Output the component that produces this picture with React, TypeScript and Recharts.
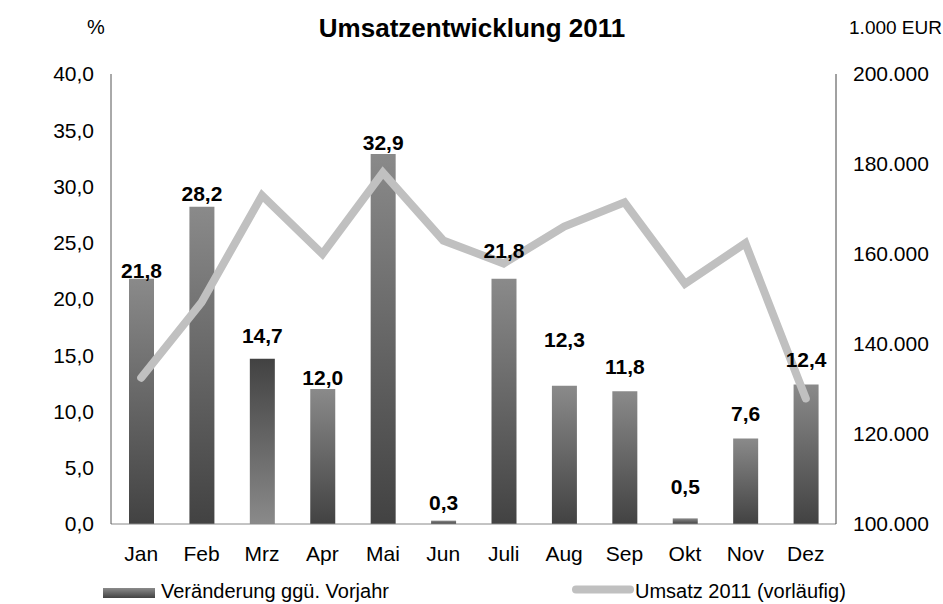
import React from 'react';
import { ComposedChart, Bar, Line, XAxis, YAxis, Cell, LabelList } from 'recharts';

const months = ['Jan', 'Feb', 'Mrz', 'Apr', 'Mai', 'Jun', 'Juli', 'Aug', 'Sep', 'Okt', 'Nov', 'Dez'];
const changeVsPrevYear = [21.8, 28.2, 14.7, 12.0, 32.9, 0.3, 21.8, 12.3, 11.8, 0.5, 7.6, 12.4];
const revenue2011 = [132500, 149300, 173000, 160000, 178100, 163000, 157900, 166100, 171500, 153400, 162400, 127900];
const leftTicks = [0, 5, 10, 15, 20, 25, 30, 35, 40];
const rightTicks = [100000, 120000, 140000, 160000, 180000, 200000];

// styling: label lift above bar top (px) and bars with reversed gradient
const labelLift = [8, 13, 23, 11, 11, 18, 28, 46, 25, 32, 25, 25];
const reversedGradient = ['Mrz'];

const data = months.map((m, i) => ({ month: m, change: changeVsPrevYear[i], revenue: revenue2011[i] }));

const FONT = '"Liberation Sans", Arial, sans-serif';

const fmtLeft = (v: number) => v.toFixed(1).replace('.', ',');
const fmtRight = (v: number) => String(Math.round(v)).replace(/\B(?=(\d{3})+(?!\d))/g, '.');

const BarLabel = (props: any) => {
  const { x, y, width, value, index } = props;
  return (
    <text
      x={Number(x) + Number(width) / 2}
      y={Number(y) - labelLift[index]}
      dy="0.355em"
      textAnchor="middle"
      fontFamily={FONT}
      fontSize={21}
      fontWeight="bold"
      fill="#000"
    >
      {fmtLeft(Number(value))}
    </text>
  );
};

export default function App() {
  return (
    <div style={{ position: 'absolute', left: 0, top: 0, width: 943, height: 604, background: '#fff', fontFamily: FONT }}>
      <ComposedChart
        width={943}
        height={604}
        data={data}
        margin={{ top: 74, right: 7, bottom: 50, left: 51 }}
      >
        <defs>
          <linearGradient id="barGrad" x1="0" y1="0" x2="0" y2="1">
            <stop offset="0%" stopColor="#8a8a8a" />
            <stop offset="100%" stopColor="#424242" />
          </linearGradient>
          <linearGradient id="barGradRev" x1="0" y1="0" x2="0" y2="1">
            <stop offset="0%" stopColor="#424242" />
            <stop offset="100%" stopColor="#8a8a8a" />
          </linearGradient>
        </defs>
        <XAxis
          dataKey="month"
          tickLine={false}
          tickSize={0}
          tickMargin={22}
          height={30}
          axisLine={{ stroke: '#888', strokeWidth: 1 }}
          tick={{ fill: '#000', fontSize: 21, fontFamily: FONT }}
          interval={0}
        />
        <YAxis
          yAxisId="left"
          orientation="left"
          domain={[0, 40]}
          ticks={leftTicks}
          tickFormatter={fmtLeft}
          width={60}
          tickLine={false}
          tickSize={0}
          tickMargin={17}
          axisLine={{ stroke: '#555', strokeWidth: 1 }}
          tick={{ fill: '#000', fontSize: 21, fontFamily: FONT }}
          allowDataOverflow
        />
        <YAxis
          yAxisId="right"
          orientation="right"
          domain={[100000, 200000]}
          ticks={rightTicks}
          tickFormatter={fmtRight}
          width={100}
          tickLine={false}
          tickSize={0}
          tickMargin={17}
          axisLine={{ stroke: '#444', strokeWidth: 1 }}
          tick={{ fill: '#000', fontSize: 21, fontFamily: FONT, textAnchor: 'start' }}
          allowDataOverflow
        />
        <Bar yAxisId="left" dataKey="change" barSize={25} isAnimationActive={false}>
          {data.map((d) => (
            <Cell key={d.month} fill={reversedGradient.includes(d.month) ? 'url(#barGradRev)' : 'url(#barGrad)'} />
          ))}
          <LabelList dataKey="change" content={BarLabel} />
        </Bar>
        <Line
          yAxisId="right"
          dataKey="revenue"
          stroke="#c0c0c0"
          strokeWidth={8}
          strokeLinecap="round"
          strokeLinejoin="miter"
          dot={false}
          activeDot={false}
          isAnimationActive={false}
        />
      </ComposedChart>
      <svg width={943} height={604} style={{ position: 'absolute', left: 0, top: 0, pointerEvents: 'none' }}>
        <defs>
          <linearGradient id="legGrad" x1="0" y1="0" x2="0" y2="1">
            <stop offset="0%" stopColor="#8a8a8a" />
            <stop offset="100%" stopColor="#424242" />
          </linearGradient>
        </defs>
        <text x={472} y={37} textAnchor="middle" fontFamily={FONT} fontSize={26} fontWeight="bold" fill="#000">
          Umsatzentwicklung 2011
        </text>
        <text x={96} y={34} textAnchor="middle" fontFamily={FONT} fontSize={20} fill="#000">%</text>
        <text x={942} y={34} textAnchor="end" fontFamily={FONT} fontSize={19} fill="#000">1.000 EUR</text>
        <rect x={103} y={588} width={52} height={10} fill="url(#legGrad)" />
        <text x={161} y={598} fontFamily={FONT} fontSize={20} fill="#000">Veränderung ggü. Vorjahr</text>
        <line x1={576} y1={589.5} x2={630} y2={589.5} stroke="#c0c0c0" strokeWidth={8} strokeLinecap="round" />
        <text x={635} y={598} fontFamily={FONT} fontSize={20} fill="#000">Umsatz 2011 (vorläufig)</text>
      </svg>
    </div>
  );
}
